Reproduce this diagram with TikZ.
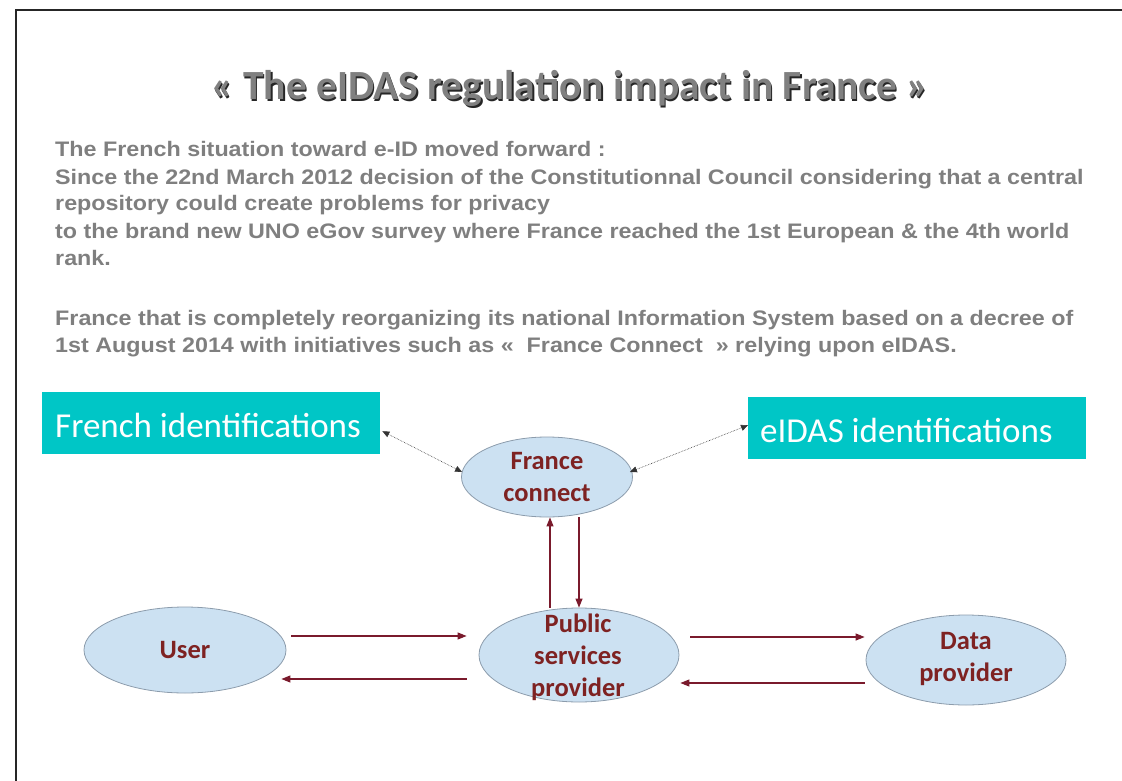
\documentclass[tikz,border=0pt]{standalone}
\usepackage{fontspec}
\setmainfont{Liberation Sans}
\newfontfamily\bodyfont[FakeStretch=1.11]{Liberation Sans}
\newfontfamily\calib{Carlito}
\usetikzlibrary{shapes.geometric,arrows.meta,calc}
\definecolor{boxteal}{HTML}{00C6C6}
\definecolor{bubfill}{HTML}{CCE1F2}
\definecolor{bubline}{HTML}{8C9CAC}
\definecolor{wine}{HTML}{7A1A2C}
\definecolor{bubred}{HTML}{7E2222}
\definecolor{bodygray}{HTML}{7F7F7F}
\begin{document}
\begin{tikzpicture}[x=1pt,y=-1pt,
  bubble/.style={ellipse,draw=bubline,fill=bubfill,line width=0.8pt,inner sep=0pt},
  bubtext/.style={font=\calib\bfseries\fontsize{26.5}{32}\selectfont,text=bubred,align=center,inner sep=0pt},
  idbox/.style={fill=boxteal,inner sep=0pt,anchor=north west},
  idtext/.style={anchor=west,inner sep=0pt,text=white,font=\calib\fontsize{35}{40}\selectfont},
  bodyline/.style={anchor=base west,inner sep=0pt,text=bodygray,font=\bodyfont\bfseries\fontsize{21}{24}\selectfont},
  titletext/.style={font=\calib\bfseries\fontsize{41.5}{46}\selectfont},
  flow/.style={draw=wine,line width=1.1pt,-{Triangle[length=9pt,width=7pt]}},
  link/.style={draw=black!80,line width=0.6pt,densely dotted,{Triangle[length=7pt,width=6pt]}-{Triangle[length=7pt,width=6pt]}}]
\useasboundingbox (0,0) rectangle (1122,781);
% frame: left and top edges only
\draw[line width=2pt,black!85] (15.5,781) -- (15.5,10.5) -- (1122,10.5);
% title with shadow
\node[titletext,text=black!85] (titleshadow) at (571.5,90) {« The eIDAS regulation impact in France »};
\node[titletext,text=black!50] (title) at (570,88.5) {« The eIDAS regulation impact in France »};
% body text
\node[bodyline] (l1) at (55,157) {The French situation toward e-ID moved forward :};
\node[bodyline] (l2) at (55,184) {Since the 22nd March 2012 decision of the Constitutionnal Council considering that a central};
\node[bodyline] (l3) at (55,211) {repository could create problems for privacy};
\node[bodyline] (l4) at (55,238) {to the brand new UNO eGov survey where France reached the 1st European \& the 4th world};
\node[bodyline] (l5) at (55,265) {rank.};
\node[bodyline] (l6) at (55,325) {France that is completely reorganizing its national Information System based on a decree of};
\node[bodyline] (l7) at (55,352) {1st August 2014 with initiatives such as «~ France Connect~ » relying upon eIDAS.};
% identification boxes
\node[idbox,minimum width=338pt,minimum height=62pt] (frid) at (42,392) {};
\node[idtext] (frtxt) at (55,425) {French identifications};
\node[idbox,minimum width=338pt,minimum height=62pt] (euid) at (748,397) {};
\node[idtext] (eutxt) at (760,430) {eIDAS identifications};
% ellipses
\node[bubble,minimum width=171pt,minimum height=80pt] (fc) at (547,477) {};
\node[bubtext] (fctxt) at (547,477) {France\\connect};
\node[bubble,minimum width=202pt,minimum height=86pt] (user) at (185,650) {};
\node[bubtext] (usertxt) at (185,650) {User};
\node[bubble,minimum width=200pt,minimum height=94pt] (psp) at (579,655) {};
\node[bubtext] (psptxt) at (578,657) {Public\\services\\provider};
\node[bubble,minimum width=200pt,minimum height=90pt] (dp) at (966,660) {};
\node[bubtext] (dptxt) at (966,659) {Data\\provider};
% connectors
\draw[link] ([xshift=2pt,yshift=-8pt]frid.east) -- ($(fc.west)+(1,-5)$);
\draw[link] ($(fc.east)+(-3,-5)$) -- ([yshift=3pt]euid.west);
\draw[flow] ([xshift=5pt,yshift=14pt]user.east) -- ([xshift=-12pt,yshift=19pt]psp.west);
\draw[flow] ([xshift=-12pt,yshift=-24pt]psp.west) -- ([xshift=-5pt,yshift=-29pt]user.east);
\draw[flow] ([xshift=11pt,yshift=18pt]psp.east) -- ([xshift=-1pt,yshift=23pt]dp.west);
\draw[flow] ([xshift=-1pt,yshift=-23pt]dp.west) -- ([xshift=1pt,yshift=-28pt]psp.east);
\draw[flow] ([xshift=-29pt]psp.north) -- ([xshift=3pt]fc.south);
\draw[flow] ([xshift=32pt]fc.south) -- ([xshift=0pt]psp.north);
\end{tikzpicture}
\end{document}
